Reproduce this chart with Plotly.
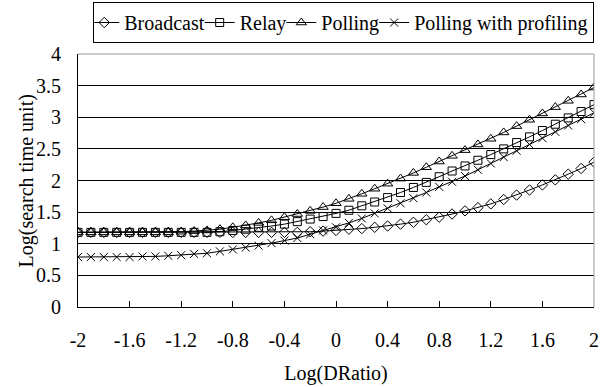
import plotly.graph_objects as go

x_vals = [-2.0, -1.9, -1.8, -1.7, -1.6, -1.5, -1.4, -1.3, -1.2, -1.1,
          -1.0, -0.9, -0.8, -0.7, -0.6, -0.5, -0.4, -0.3, -0.2, -0.1,
          0.0, 0.1, 0.2, 0.3, 0.4, 0.5, 0.6, 0.7, 0.8, 0.9,
          1.0, 1.1, 1.2, 1.3, 1.4, 1.5, 1.6, 1.7, 1.8, 1.9, 2.0]

broadcast = [1.18, 1.18, 1.18, 1.18, 1.18, 1.18, 1.18, 1.18, 1.18, 1.18,
             1.18, 1.18, 1.18, 1.18, 1.18, 1.18, 1.18, 1.18, 1.19, 1.20,
             1.21, 1.23, 1.24, 1.26, 1.28, 1.31, 1.34, 1.38, 1.42, 1.47,
             1.52, 1.57, 1.63, 1.70, 1.77, 1.85, 1.93, 2.01, 2.10, 2.19, 2.29]

relay = [1.18, 1.18, 1.18, 1.18, 1.18, 1.18, 1.18, 1.18, 1.18, 1.18,
         1.18, 1.19, 1.21, 1.23, 1.26, 1.28, 1.31, 1.35, 1.39, 1.43,
         1.48, 1.53, 1.60, 1.66, 1.73, 1.81, 1.89, 1.97, 2.06, 2.15,
         2.23, 2.32, 2.41, 2.50, 2.60, 2.69, 2.79, 2.89, 2.99, 3.09, 3.20]

polling = [1.18, 1.18, 1.18, 1.18, 1.18, 1.18, 1.18, 1.18, 1.19, 1.20,
           1.21, 1.23, 1.26, 1.29, 1.33, 1.37, 1.42, 1.47, 1.52, 1.58,
           1.64, 1.71, 1.79, 1.87, 1.95, 2.03, 2.12, 2.21, 2.30, 2.39,
           2.48, 2.57, 2.66, 2.76, 2.86, 2.96, 3.06, 3.16, 3.26, 3.36, 3.47]

profiling = [0.79, 0.79, 0.79, 0.79, 0.79, 0.80, 0.80, 0.81, 0.82, 0.84,
             0.85, 0.88, 0.91, 0.94, 0.97, 1.01, 1.05, 1.09, 1.15, 1.21,
             1.26, 1.33, 1.40, 1.48, 1.56, 1.64, 1.72, 1.81, 1.90, 1.98,
             2.07, 2.17, 2.27, 2.37, 2.47, 2.57, 2.67, 2.77, 2.87, 2.97, 3.07]

series_names = ["Broadcast", "Relay", "Polling", "Polling with profiling"]
series_values = [broadcast, relay, polling, profiling]
series_symbols = ["diamond-open", "square-open", "triangle-up-open", "x-thin-open"]
series_sizes = [8, 8, 9, 8]

x_tickvals = [-2, -1.6, -1.2, -0.8, -0.4, 0, 0.4, 0.8, 1.2, 1.6, 2]
x_ticktext = ["-2", "-1.6", "-1.2", "-0.8", "-0.4", "0", "0.4", "0.8", "1.2", "1.6", "2"]
y_tickvals = [0, 0.5, 1, 1.5, 2, 2.5, 3, 3.5, 4]
y_ticktext = ["0", "0.5", "1", "1.5", "2", "2.5", "3", "3.5", "4"]

FONT = "Liberation Serif, Times New Roman, serif"

fig = go.Figure()
for name, vals, sym, sz in zip(series_names, series_values, series_symbols, series_sizes):
    fig.add_trace(go.Scatter(
        x=x_vals, y=vals, name=name, mode="lines+markers",
        line=dict(color="black", width=1),
        marker=dict(symbol=sym, size=sz, color="black",
                    line=dict(color="black", width=1)),
    ))

fig.update_layout(
    width=600, height=387,
    margin=dict(l=78, r=6, t=54, b=80, pad=0, autoexpand=False),
    paper_bgcolor="white", plot_bgcolor="white",
    font=dict(family=FONT, size=20, color="black"),
    showlegend=True,
    legend=dict(
        orientation="h", x=1.0005, xanchor="right",
        y=1.2055, yanchor="top",
        bordercolor="black", borderwidth=1, bgcolor="white",
        font=dict(family=FONT, size=20, color="black"),
        itemwidth=30, indentation=-10, traceorder="normal",
    ),
    xaxis=dict(
        range=[-2, 2], tickvals=x_tickvals, ticktext=x_ticktext,
        showgrid=False, zeroline=False,
        showline=True, linecolor="black", linewidth=1,
        ticks="inside", ticklen=6, tickcolor="black",
        ticklabelstandoff=15,
        title=dict(text="Log(DRatio)", standoff=15,
                   font=dict(family=FONT, size=20)),
    ),
    yaxis=dict(
        range=[0, 4], tickvals=y_tickvals, ticktext=y_ticktext,
        showgrid=True, gridcolor="black", gridwidth=1,
        zeroline=False,
        showline=True, linecolor="black", linewidth=1,
        ticks="", ticklabelstandoff=12,
    ),
    annotations=[
        dict(text="Log(search time unit)", textangle=-90,
             xref="paper", yref="paper", x=-0.099, y=0.5,
             xanchor="center", yanchor="middle", showarrow=False,
             font=dict(family=FONT, size=20, color="black")),
    ],
    shapes=[
        dict(type="line", xref="paper", yref="paper", x0=0, x1=1, y0=1, y1=1,
             line=dict(color="#999999", width=1), layer="above"),
        dict(type="line", xref="paper", yref="paper", x0=1, x1=1, y0=0, y1=1,
             line=dict(color="#999999", width=1), layer="above"),
    ],
)

fig.write_html("out.html")
